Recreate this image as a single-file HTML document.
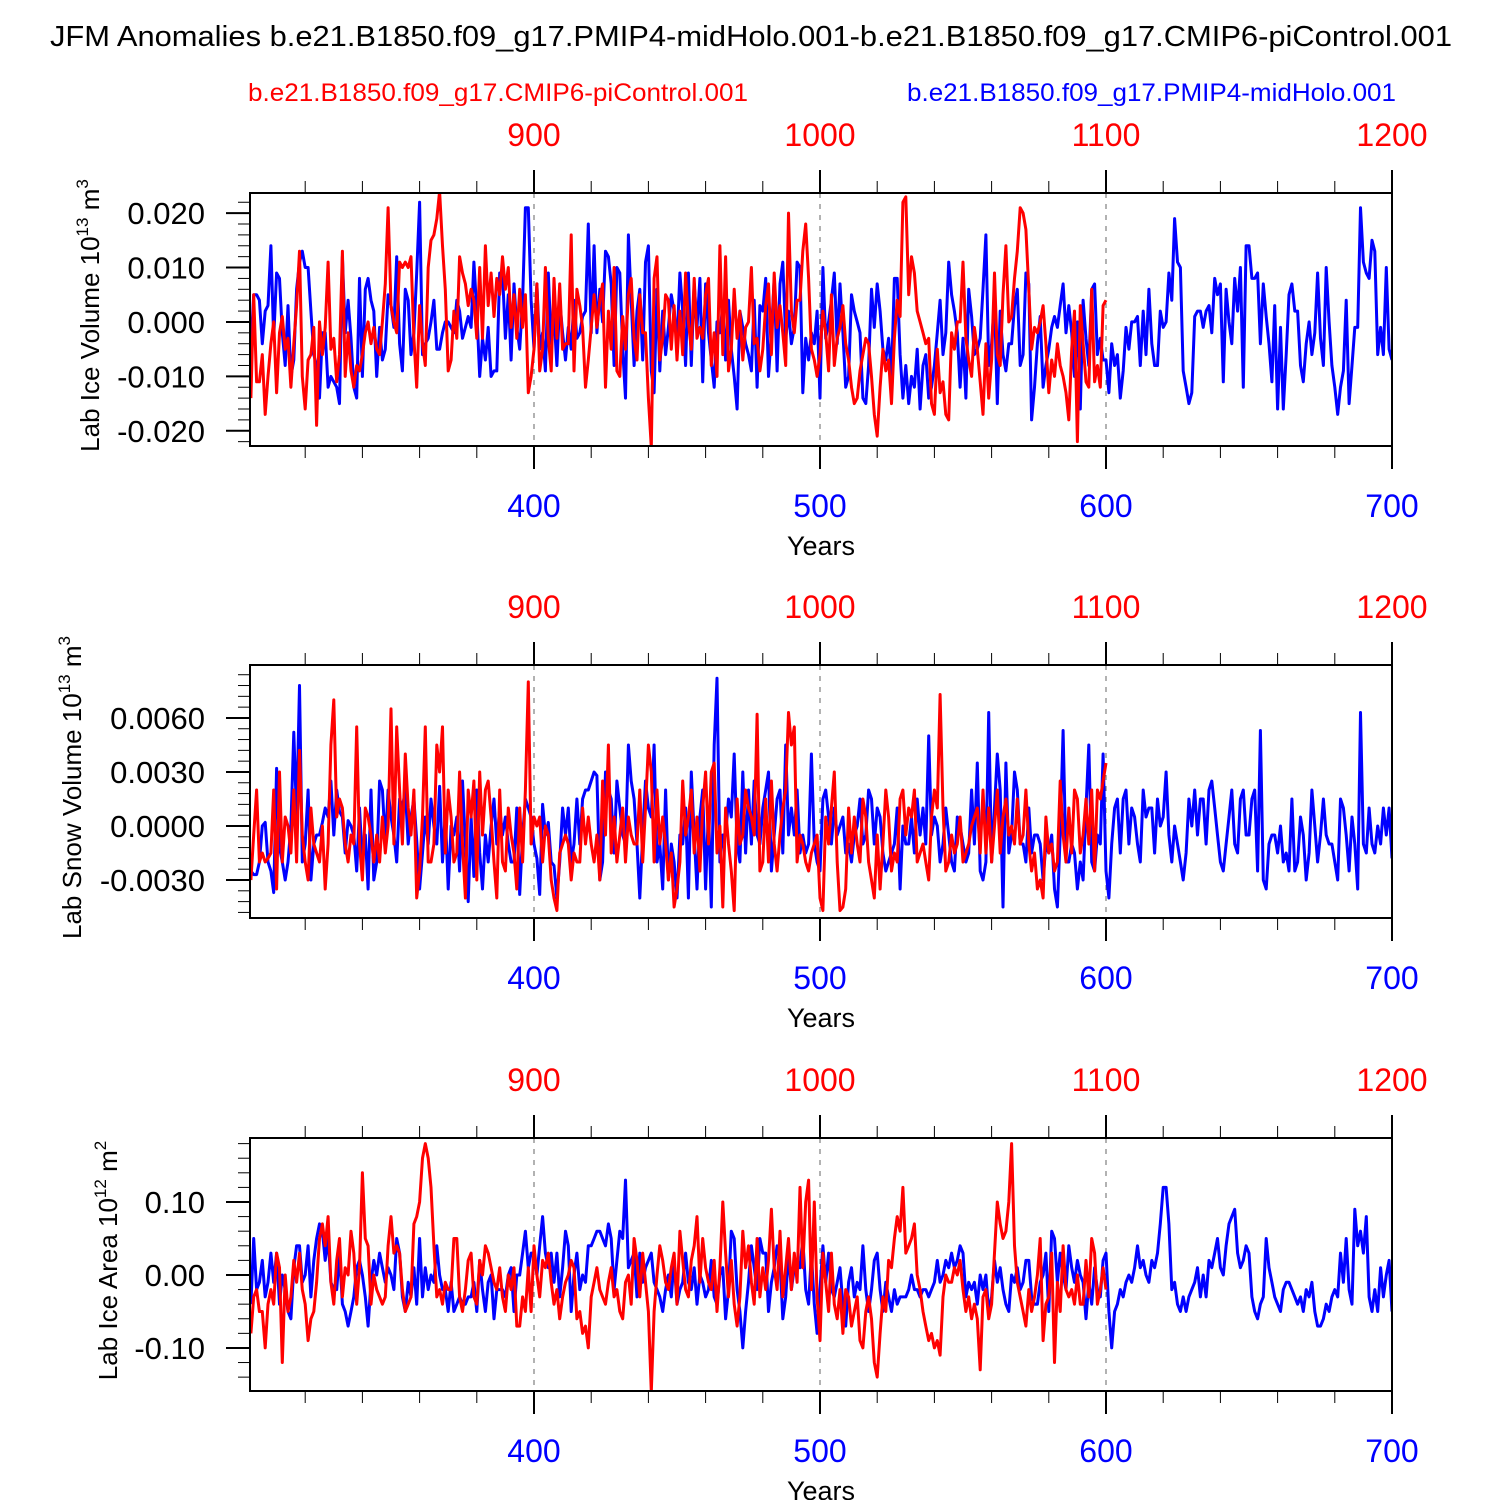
<!DOCTYPE html>
<html><head><meta charset="utf-8"><style>
html,body{margin:0;padding:0;background:#fff;}
svg{display:block;font-family:"Liberation Sans",sans-serif;}
</style></head><body>
<svg id="chart" width="1500" height="1500" viewBox="0 0 1500 1500">
<text x="50" y="46" font-size="29" textLength="1402" lengthAdjust="spacingAndGlyphs">JFM Anomalies b.e21.B1850.f09_g17.PMIP4-midHolo.001-b.e21.B1850.f09_g17.CMIP6-piControl.001</text>
<text x="248" y="101" font-size="25" fill="#ff0000" textLength="500" lengthAdjust="spacingAndGlyphs">b.e21.B1850.f09_g17.CMIP6-piControl.001</text>
<text x="907" y="101" font-size="25" fill="#0000ff" textLength="489" lengthAdjust="spacingAndGlyphs">b.e21.B1850.f09_g17.PMIP4-midHolo.001</text>
</svg>
<script>
// ---- data (year index: blue starts at year 301, red at year 801 => plotted at 301) ----
const blueStart = 301;
const redStart = 801;
const redOffset = 500;
const blueTicks = [400, 500, 600, 700];
const redTicks = [900, 1000, 1100, 1200];

// Panel 1: Lab Ice Volume, units 1e-3 (x1e13 m^3)
const iceVolBlue = [-5,5,5,4,-4,2,3,14,-3,9,8,-2,-8,3,-10,-7,6,11,13,10,
10,2,-6,-8,-14,-2,-2,-12,-10,-11,-12,-15,12,-2,4,-3,-12,-14,8,-10,
6,8,4,2,-10,-1,-7,-5,5,3,-1,12,-4,-9,6,4,-6,-2,9,22,
-6,-4,-3,0,4,-5,-5,-2,0,0,-1,-2,4,2,-3,-1,1,-1,11,2,
-10,-3,-7,-1,-10,-9,-9,9,9,-3,5,-7,7,-1,-5,4,21,21,4,-5,
7,-5,-2,-9,9,-4,1,-8,4,-2,-7,-1,-5,4,-3,-2,1,2,18,-2,
14,-2,6,0,13,12,7,-8,10,9,-5,-14,16,4,-8,2,6,-7,11,14,
-9,-13,6,-9,2,-6,-1,5,2,-4,9,2,-8,9,-8,7,-1,8,-11,7,
-2,-7,-12,0,-2,3,-7,4,-5,-10,-16,2,-1,-4,-6,-9,4,-12,3,2,
8,-10,-2,8,-9,7,11,-3,2,-4,-1,11,10,-13,-3,-7,-2,-4,2,-14,
10,-3,0,4,9,-4,7,-2,-12,-10,5,2,0,-2,-14,-15,-8,6,-1,7,
2,-5,-7,-3,-10,8,8,-6,-14,-8,-15,-10,-12,-5,-16,-8,-6,-14,-12,-8,
-2,4,-6,-2,11,5,2,-2,-12,-3,-14,6,1,-6,-5,-3,6,16,-8,-4,
4,-15,2,-6,-9,-4,-4,3,6,-8,-6,9,7,-18,-12,-4,1,-12,-8,-5,
-1,1,-1,3,7,-2,3,-2,-10,0,-16,4,-3,-8,6,7,-6,-3,-7,-7,
-13,-4,-8,-6,-14,-9,-1,-5,0,0,1,-8,2,-6,6,-4,-8,-8,2,-1,
0,9,4,19,11,10,-9,-12,-15,-13,1,2,2,-1,2,3,-2,8,5,7,
-11,6,0,-4,8,2,10,-12,14,14,8,8,9,-4,7,1,-4,-11,3,-16,
-1,-16,-6,5,7,2,2,-8,-11,-4,0,-6,-2,9,-3,-8,10,0,-8,-12,
-17,-12,-9,4,-15,-8,-1,-1,21,11,9,8,15,13,-6,-1,-6,10,-5,-7];
const iceVolRed = [-14,5,-11,-11,-6,-17,-10,-4,0,-13,-2,1,-5,-3,-12,-4,3,13,-10,-16,
-7,-6,-1,-19,0,-6,-1,11,-5,-3,-11,-6,13,-10,-2,-9,-12,-8,-9,-6,
-2,0,-4,-1,-5,-6,0,7,21,3,0,-2,11,10,11,10,12,-3,-12,3,
-4,-8,10,15,16,19,24,14,6,-9,-7,2,-3,12,9,7,3,6,4,-3,
10,-3,14,3,9,1,8,5,12,6,10,-1,5,-3,6,-1,5,-13,-10,-5,
7,-9,-5,10,-3,-9,8,-3,7,-5,-4,-4,16,-9,6,3,-1,-12,-7,-1,
5,-1,4,7,-12,2,-5,10,-9,-10,1,-5,5,8,-3,-7,5,-2,-2,-14,
-23,8,12,-7,-3,5,4,-5,3,-7,2,-6,9,0,-5,8,-3,-1,-3,5,
8,-8,-2,-10,14,-6,12,-9,-5,6,-3,2,-7,-1,0,10,-4,-3,-9,-5,
3,7,-6,9,-1,3,-2,-8,20,2,-2,4,4,13,18,8,-5,-7,-10,-6,
2,-2,-9,5,-8,-3,-1,3,-4,-7,-12,-15,-14,-9,-6,-3,-4,-10,-17,-21,
-12,-5,-9,-7,-15,-3,4,1,22,23,5,12,9,2,0,-2,-4,-3,-15,-17,
-5,-13,-11,-17,-18,-2,-5,0,0,11,-3,-7,-10,-1,-5,-11,-17,-4,-14,-7,
9,-6,-8,5,14,0,1,8,13,21,20,17,6,-5,-1,-2,0,3,-4,-13,
-7,-10,-4,-8,-10,-13,-18,-5,2,-22,3,-4,-11,-12,6,-11,-8,-12,3,4];

// Panel 2: Lab Snow Volume, units 1e-4
const snowVolBlue = [-25,-27,-27,-20,0,2,-20,-25,-37,32,-12,-20,-30,-20,0,52,5,78,-20,-10,
20,-30,-10,-5,-5,2,10,5,25,-5,20,8,5,-15,3,0,-5,-25,10,-20,
-5,-35,20,-30,-20,25,20,-10,20,5,-5,-20,15,10,20,-10,5,15,-8,-35,
-15,5,-10,15,0,-10,22,-20,8,-35,0,-5,5,-25,25,-10,-42,5,-28,20,
-15,-35,-5,-20,0,15,-10,10,-5,5,-10,-20,-20,10,-38,-5,15,10,5,-10,
-18,-38,12,-5,2,-20,-22,-40,-20,10,-5,10,-20,-10,15,-10,15,20,20,25,
30,28,-30,-20,30,20,15,-15,25,10,-5,-10,45,25,15,-10,-40,-5,25,10,
5,45,-20,-10,-35,20,-30,-10,-20,-40,-5,-10,10,-40,30,-5,-35,5,20,-35,
10,-45,45,82,-20,-5,-5,15,5,40,-10,-20,30,-15,20,-10,25,-5,-10,10,
20,30,-25,-5,15,20,-15,45,-5,10,-5,20,-15,-5,-15,-10,40,-10,-20,-25,
15,20,5,-10,10,-5,0,5,-15,-10,-20,-5,0,15,-10,-5,20,15,-10,10,
5,-15,-25,-20,-15,-10,10,-35,0,-10,-10,5,-15,15,-5,10,-10,50,-5,5,
0,-20,-10,10,-5,-20,-25,5,0,-10,-20,-15,20,-10,35,-25,-30,-20,63,-20,
10,40,20,-45,35,-15,-5,30,20,-10,-10,-20,10,-15,-5,-5,-10,-30,-10,-15,
-5,-35,-45,-5,53,-20,-20,-10,-15,-35,-20,-30,10,45,-20,-25,-5,-10,40,-25,
-40,-10,10,15,-15,15,20,-10,10,5,-10,-20,20,5,10,10,-15,15,0,5,
30,-5,-20,0,-10,-20,-30,-15,15,0,20,-5,15,15,-10,20,25,10,-5,-20,
-25,-10,5,20,-10,-15,15,20,-5,-5,15,20,-25,53,-30,-35,-10,-5,-5,-15,
0,-20,-15,-25,15,-25,-20,5,-5,-30,-15,20,0,-20,-5,15,-5,-10,-10,-20,
-30,15,10,-5,-25,5,-10,-35,63,-10,-15,10,-10,-15,0,-10,10,-5,10,-18];
const snowVolRed = [-30,-5,20,-20,-15,-20,-18,-15,20,-35,30,-20,5,0,-15,20,-20,42,-5,-20,
-30,10,-10,-15,-20,0,-35,-10,45,70,5,15,10,-10,-20,-5,-10,55,-10,-30,
10,5,-5,-20,-5,-20,5,-15,0,65,-10,55,20,-10,40,10,-5,20,-40,-25,
5,55,-20,-20,-10,45,30,55,-15,20,5,-20,-15,30,-10,-40,20,5,25,-30,
30,-5,20,25,5,-20,-40,20,-20,-25,10,-5,-15,-35,10,-20,20,80,-10,5,
0,5,-20,0,-5,-30,-40,-47,-15,-10,-5,-10,-30,-15,-20,-20,10,-10,5,-10,
-20,-5,-30,25,-5,45,-15,5,-20,-5,10,-20,5,-5,-10,-10,20,-20,10,45,
30,-20,20,-10,5,-10,-30,-15,-45,-35,-20,25,-5,5,20,-15,5,-25,10,30,
-10,30,35,-15,0,-45,10,-10,-25,-47,15,-10,-5,20,10,5,-5,62,-25,-20,
15,-20,25,-10,-25,-5,10,20,63,45,55,-20,-5,-10,-20,-25,-15,-10,-5,-40,
-47,5,-10,10,30,-20,-47,-45,-35,10,-15,5,-10,-20,15,5,-20,-30,-40,-5,
-35,-10,20,5,-25,-15,-20,15,20,-5,10,5,20,-20,-15,-10,-20,-30,5,20,
10,73,10,-25,-20,-5,-15,-10,5,-20,-15,-10,0,5,10,-15,20,-15,10,-20,
0,20,-15,5,15,-5,0,-10,15,-10,-5,20,-10,-25,-15,-35,-30,-40,5,-15,
-10,-25,-20,25,-5,-20,10,-15,20,15,-15,-5,15,-10,20,-25,20,15,25,35];

// Panel 3: Lab Ice Area, units 1e-2 (x1e12 m^2)
const iceAreaBlue = [-4,5,-2,-1,2,-3,-1,3,-1,3,-4,0,-2,-5,-6,1,4,4,-1,0,
4,-3,2,5,7,6,2,5,-1,-2,-2,3,-4,-5,-7,-5,-3,1,2,0,
-3,-7,-1,2,0,3,1,-1,1,0,-2,5,3,-3,-5,-1,-3,1,-4,5,
-3,1,-2,0,-1,4,0,-2,-2,-5,-1,-5,-4,-3,-4,-4,-3,-3,-1,-5,
2,-2,-5,-1,0,-6,-2,-2,-2,-3,0,1,-5,0,0,3,6,1,3,3,
0,4,8,3,1,3,-1,3,-3,1,6,4,-5,0,3,-2,0,-1,4,4,
5,6,6,5,4,7,5,-2,2,6,5,13,1,2,3,-3,3,-1,1,2,
3,-1,-2,-3,-5,-2,0,-3,2,-4,-2,-1,3,-1,-2,1,-4,0,-1,-3,
-2,2,-3,-4,0,1,-6,-2,6,5,-2,-5,-10,-5,-1,4,1,-2,5,3,
3,-5,-1,1,4,2,-6,-3,3,-2,1,2,1,5,-2,-4,3,-4,-8,-2,
4,-1,3,-2,-3,-1,1,-4,-7,-1,1,-3,-1,-2,4,-2,-5,-2,2,3,
-2,-5,-1,-3,-5,-2,-4,-3,-3,-3,-2,0,-2,-2,-3,-2,-2,-3,-2,-1,
2,-1,0,2,1,3,1,2,4,3,-3,-1,-2,-1,-4,0,-2,0,-5,-3,
2,-1,1,-2,-4,-5,0,-1,1,-2,-1,2,2,-3,-4,-4,-1,0,3,-5,
6,5,-1,3,0,-2,4,1,-1,2,0,-1,-6,-1,-4,1,-2,-3,2,3,
-5,-10,-5,-4,-2,-3,-1,0,-1,1,4,1,2,0,-1,2,1,3,7,12,
12,7,-2,-1,-4,-5,-3,-5,-3,-2,-1,1,-3,0,-3,2,1,3,5,1,
0,4,7,8,9,3,1,2,4,3,-3,-5,-6,-4,-3,5,1,-1,-3,-4,
-5,-2,-1,-1,-2,-3,-4,-3,-5,-2,-3,-1,-5,-7,-7,-6,-4,-5,-3,-2,
-3,3,-1,5,-2,-4,9,4,6,3,8,-3,-5,-2,-5,1,-3,0,2,-5];
const iceAreaRed = [-8,-3,-2,-5,-5,-10,-4,-2,-4,3,1,-12,0,-5,-3,2,-1,3,-2,-4,
-9,-6,-5,-1,5,7,4,8,-1,-4,2,5,-3,1,0,6,3,-4,1,14,
5,4,-4,0,-2,-3,-4,-3,4,8,3,4,3,-2,-5,-4,-3,7,8,10,
16,18,16,12,4,-3,-2,-4,-1,-2,-2,5,5,-3,-5,-2,2,3,-3,-4,
2,0,4,3,1,-1,-2,1,-3,-5,0,-2,1,-7,-7,-3,-5,1,-5,4,
0,-3,2,1,3,-1,-4,-2,-6,-3,-1,0,2,1,-6,-5,-8,-7,-10,-3,
-1,1,-2,-3,-4,-1,1,-3,-2,-5,-6,-1,0,-4,5,2,-3,3,-1,-5,
-16,-5,0,4,2,-1,-2,1,3,-4,6,2,-2,-3,2,4,8,-1,5,1,
-1,-2,2,-5,1,10,3,-3,2,-4,-7,-3,6,1,4,-1,-4,5,-3,1,
-2,2,9,1,-2,6,-3,1,5,-2,3,-1,12,1,10,13,-2,10,-3,-9,
3,-1,-5,3,-4,-6,-2,-8,-2,-3,-7,-5,-3,-9,-10,-5,-3,-6,-12,-14,
-8,-3,-5,2,1,5,8,6,12,3,4,5,7,0,-2,-5,-7,-9,-8,-10,
-9,-11,-3,0,-1,-1,1,0,2,-2,-5,-3,-6,-4,-6,-13,-3,-2,-6,-4,
3,10,7,5,6,10,18,4,-1,-3,-5,-7,-2,-5,-3,0,5,-9,-4,-3,
3,-12,-1,-5,4,-2,-3,-2,-4,0,-4,-4,2,-3,5,3,-4,-2,1,-2];

const panelTitles = ["Lab Ice Volume 10|13| m|3", "Lab Snow Volume 10|13| m|3", "Lab Ice Area 10|12| m|2"];
const yTickVals = [[-0.02,-0.01,0,0.01,0.02],[-0.003,0,0.003,0.006],[-0.1,0,0.1]];
const yTickLabels = [["-0.020","-0.010","0.000","0.010","0.020"],["-0.0030","0.0000","0.0030","0.0060"],["-0.10","0.00","0.10"]];

// ---- layout ----
const NS = "http://www.w3.org/2000/svg";
const svg = document.getElementById('chart');
const L = 250, R = 1392, H = 253;
const xMin = 300.7, xMax = 700;
const panels = [
  {top:193, ymin:-0.0228, ymax:0.0237, minor:0.002, scale:0.001, blue:iceVolBlue, red:iceVolRed, key:'ice-volume', tx:99},
  {top:665, ymin:-0.00511, ymax:0.00894, minor:0.0006, scale:0.0001, blue:snowVolBlue, red:snowVolRed, key:'snow-volume', tx:81},
  {top:1138, ymin:-0.159, ymax:0.1877, minor:0.02, scale:0.01, blue:iceAreaBlue, red:iceAreaRed, key:'ice-area', tx:117}
];
function xs(yr){ return L + (yr - xMin) / (xMax - xMin) * (R - L); }
function mk(tag, attrs, parent){
  const e = document.createElementNS(NS, tag);
  for (const k in attrs) e.setAttribute(k, attrs[k]);
  (parent || svg).appendChild(e);
  return e;
}
panels.forEach((p, pi) => {
  const g = mk('g', {});
  
  
  const T = p.top, B = p.top + H;
  const ys = v => B - (v - p.ymin) / (p.ymax - p.ymin) * H;
  [400,500,600].forEach(yr => {
    const l = mk('line', {x1:xs(yr), x2:xs(yr), y1:T, y2:B, stroke:'#666', 'stroke-width':1, 'stroke-dasharray':'5,6'}, g);
    
    
  });
  const clip = mk('clipPath', {id:'clip' + pi}, g);
  mk('rect', {x:L, y:T, width:R-L, height:H}, clip);
  const sg = mk('g', {'clip-path':'url(#clip' + pi + ')'}, g);
  const drawSeries = (arr, start, offset, color, name) => {
    let d = '';
    arr.forEach((v, i) => {
      const yr = start + i - offset;
      d += (i ? 'L' : 'M') + xs(yr).toFixed(1) + ',' + ys(v * p.scale).toFixed(1);
    });
    const path = mk('path', {d:d, fill:'none', stroke:color, 'stroke-width':3, 'stroke-linejoin':'round'}, sg);
    
    
  };
  drawSeries(p.blue, blueStart, 0, '#0000ff', 'series-midholo-' + p.key);
  drawSeries(p.red, redStart, redOffset, '#ff0000', 'series-picontrol-' + p.key);
  const fr = mk('rect', {x:L, y:T, width:R-L, height:H, fill:'none', stroke:'#000', 'stroke-width':2}, g);
  
  
  for (let yr = 320; yr <= 700; yr += 20) {
    const major = yr % 100 === 0;
    const len = major ? 23 : 12;
    mk('line', {x1:xs(yr), x2:xs(yr), y1:B, y2:B + len, stroke:'#000', 'stroke-width':major?2:1}, g);
    mk('line', {x1:xs(yr), x2:xs(yr), y1:T, y2:T - len, stroke:'#000', 'stroke-width':major?2:1}, g);
  }
  blueTicks.forEach(t => {
    const tx = mk('text', {x:xs(t), y:B + 71, 'text-anchor':'middle', 'font-size':32, fill:'#0000ff'}, g);
    tx.textContent = t;
    
    
  });
  redTicks.forEach(t => {
    const tx = mk('text', {x:xs(t - redOffset), y:T - 47, 'text-anchor':'middle', 'font-size':32, fill:'#ff0000'}, g);
    tx.textContent = t;
    
    
  });
  const xt = mk('text', {x:821, y:B + 109, 'text-anchor':'middle', 'font-size':27}, g);
  xt.textContent = 'Years';
  
  
  const n0 = Math.ceil(p.ymin / p.minor), n1 = Math.floor(p.ymax / p.minor);
  for (let n = n0; n <= n1; n++) {
    const v = n * p.minor;
    mk('line', {x1:L - 12, x2:L, y1:ys(v), y2:ys(v), stroke:'#000', 'stroke-width':1}, g);
  }
  yTickVals[pi].forEach((v, i) => {
    mk('line', {x1:L - 24, x2:L, y1:ys(v), y2:ys(v), stroke:'#000', 'stroke-width':2}, g);
    const tx = mk('text', {x:L - 45, y:ys(v) + 11, 'text-anchor':'end', 'font-size':31}, g);
    tx.textContent = yTickLabels[pi][i];
    
    
  });
  const parts = panelTitles[pi].split('|');
  const cy = T + H / 2;
  const yt = mk('text', {x:0, y:0, 'text-anchor':'middle', 'font-size':26, transform:'translate(' + p.tx + ',' + (cy - 4) + ') rotate(-90)'}, g);
  
  
  parts.forEach((s, i) => {
    const ts = mk('tspan', {}, yt);
    if (i % 2 === 1) { ts.setAttribute('font-size', 17); ts.setAttribute('dy', -11); }
    else if (i > 0) { ts.setAttribute('dy', 11); }
    ts.textContent = s;
  });
});
</script>
</body></html>
